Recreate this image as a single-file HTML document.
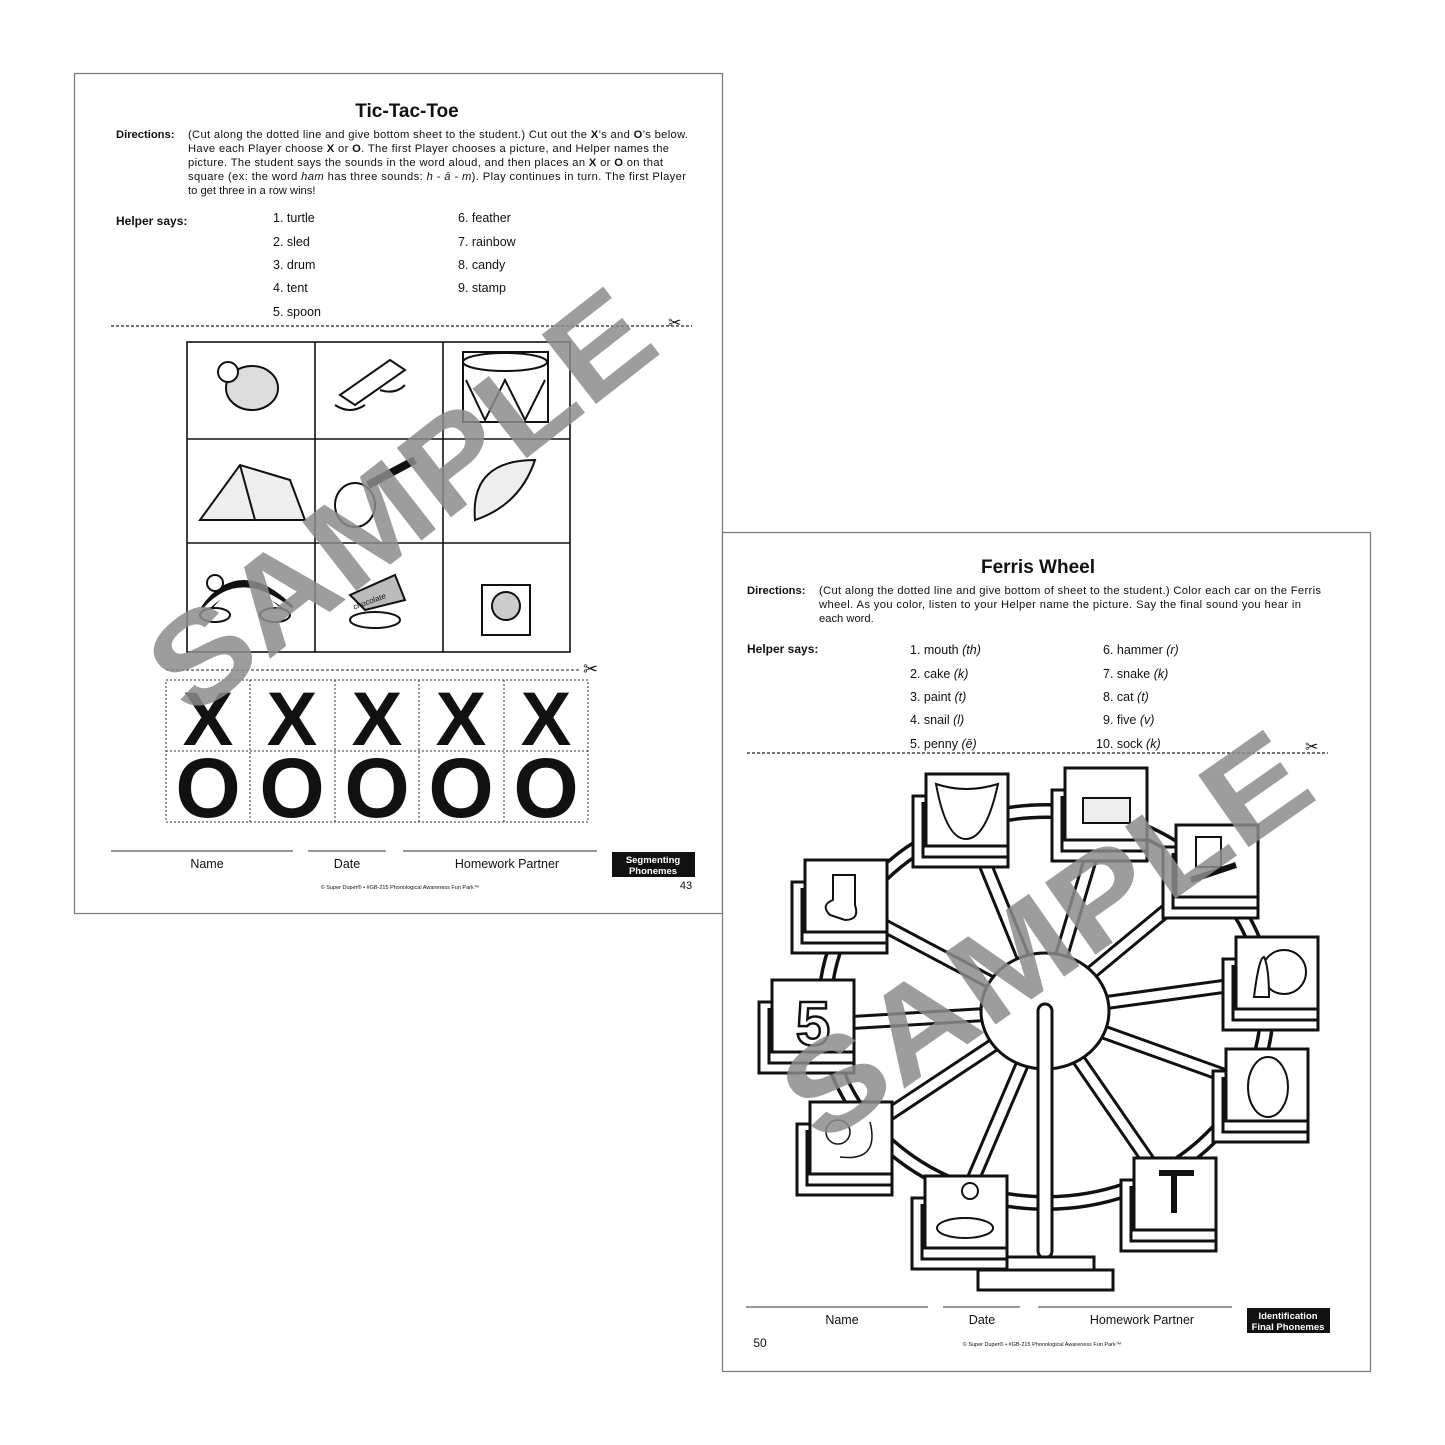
<!DOCTYPE html>
<html><head><meta charset="utf-8"><style>
html,body{margin:0;padding:0;background:#fff}
svg{display:block}
text{font-family:"Liberation Sans",sans-serif;fill:#111}
.b{font-weight:bold}
</style></head><body>
<svg width="1445" height="1445" viewBox="0 0 1445 1445" xmlns="http://www.w3.org/2000/svg">
<defs>
<g id="seat"><path d="M-13 22 H82 V93 H-13 Z" fill="#fff"/><path d="M-3 28 V83 H82" fill="none"/><rect x="0" y="0" width="82" height="72" fill="#fff"/></g>
</defs>
<rect width="1445" height="1445" fill="#fff"/>
<!-- PAGE 1 -->
<rect x="74.5" y="73.5" width="648" height="840" fill="#fff" stroke="#777" stroke-width="1.2"/>
<text x="407" y="117" font-size="19" class="b" text-anchor="middle">Tic-Tac-Toe</text>
<g font-size="11.2">
<text x="116" y="138" class="b">Directions:</text>
<text x="188" y="138" textLength="500" lengthAdjust="spacing">(Cut along the dotted line and give bottom sheet to the student.)  Cut out the <tspan class="b">X</tspan>’s and <tspan class="b">O</tspan>’s below.</text>
<text x="188" y="152" textLength="481" lengthAdjust="spacing">Have each Player choose <tspan class="b">X</tspan> or <tspan class="b">O</tspan>.  The first Player chooses a picture, and Helper names the</text>
<text x="188" y="166" textLength="475" lengthAdjust="spacing">picture.  The student says the sounds in the word aloud, and then places an <tspan class="b">X</tspan> or <tspan class="b">O</tspan> on that</text>
<text x="188" y="180" textLength="498" lengthAdjust="spacing">square (ex: the word <tspan font-style="italic">ham</tspan> has three sounds: <tspan font-style="italic">h - ā - m</tspan>).  Play continues in turn.  The first Player</text>
<text x="188" y="194">to get three in a row wins!</text>
<text x="116" y="225" class="b" font-size="12">Helper says:</text>
</g>
<g font-size="12.5">
<text x="273" y="222">1. turtle</text><text x="273" y="246">2. sled</text><text x="273" y="269">3. drum</text><text x="273" y="292">4. tent</text><text x="273" y="316">5. spoon</text>
<text x="458" y="222">6. feather</text><text x="458" y="246">7. rainbow</text><text x="458" y="269">8. candy</text><text x="458" y="292">9. stamp</text>
</g>
<line x1="111" y1="326" x2="692" y2="326" stroke="#222" stroke-width="1.2" stroke-dasharray="3,2"/>
<text x="668" y="328" font-size="16">✂</text>
<g stroke="#111" stroke-width="1.6" fill="none">
<rect x="187" y="342" width="383" height="310"/>
<line x1="315" y1="342" x2="315" y2="652"/><line x1="443" y1="342" x2="443" y2="652"/>
<line x1="187" y1="439" x2="570" y2="439"/><line x1="187" y1="543" x2="570" y2="543"/>
</g>
<g stroke="#111" stroke-width="2" fill="#fff">
<ellipse cx="252" cy="388" rx="26" ry="22" fill="#ddd"/><circle cx="228" cy="372" r="10"/>
<path d="M340 395 L390 360 L405 370 L355 405 Z"/><path d="M335 405 Q350 415 365 405 M380 390 Q395 395 405 385" fill="none"/>
<rect x="463" y="352" width="85" height="70"/><ellipse cx="505" cy="362" rx="42" ry="9"/><path d="M466 380 L485 420 L505 380 L525 420 L545 380" fill="none"/>
<path d="M200 520 L240 465 L290 480 L305 520 Z" fill="#eee"/><path d="M240 465 L255 520" fill="none"/>
<ellipse cx="355" cy="505" rx="20" ry="22"/><path d="M368 485 L415 460" stroke-width="8" fill="none"/>
<path d="M475 520 Q470 460 535 460 Q520 505 475 520 Z" fill="#eee"/>
<path d="M205 610 Q240 560 290 610" fill="none" stroke-width="10"/><path d="M205 610 Q240 570 290 610" fill="none" stroke="#fff" stroke-width="5"/>
<ellipse cx="215" cy="615" rx="15" ry="7"/><ellipse cx="275" cy="615" rx="15" ry="7"/><circle cx="215" cy="583" r="8"/>
<path d="M350 595 L395 575 L405 600 L365 610 Z" fill="#bbb"/><ellipse cx="375" cy="620" rx="25" ry="8"/>
<rect x="482" y="585" width="48" height="50"/><circle cx="506" cy="606" r="14" fill="#ccc"/>
</g>
<text x="352" y="603" font-size="8" transform="rotate(-20 372 600)">chocolate</text>
<line x1="166" y1="670" x2="580" y2="670" stroke="#222" stroke-width="1" stroke-dasharray="3,2"/>
<text x="583" y="675" font-size="18">✂</text>
<g stroke="#333" stroke-width="1" fill="none" stroke-dasharray="2,2">
<rect x="166" y="680" width="422" height="142"/>
<line x1="166" y1="751" x2="588" y2="751"/>
<line x1="250" y1="680" x2="250" y2="822"/><line x1="335" y1="680" x2="335" y2="822"/><line x1="419" y1="680" x2="419" y2="822"/><line x1="504" y1="680" x2="504" y2="822"/>
</g>
<g font-size="76" class="b" text-anchor="middle">
<text x="208" y="745">X</text><text x="292" y="745">X</text><text x="377" y="745">X</text><text x="461" y="745">X</text><text x="546" y="745">X</text>
</g>
<g font-size="84" text-anchor="middle" class="b">
<text x="208" y="817">O</text><text x="292" y="817">O</text><text x="377" y="817">O</text><text x="461" y="817">O</text><text x="546" y="817">O</text>
</g>
<g stroke="#333" stroke-width="1"><line x1="111" y1="851" x2="293" y2="851"/><line x1="308" y1="851" x2="386" y2="851"/><line x1="403" y1="851" x2="597" y2="851"/></g>
<g font-size="12.5" text-anchor="middle"><text x="207" y="868">Name</text><text x="347" y="868">Date</text><text x="507" y="868">Homework Partner</text></g>
<rect x="612" y="852" width="83" height="25" fill="#111"/>
<text x="653" y="863" font-size="9.5" class="b" style="fill:#fff" text-anchor="middle">Segmenting</text>
<text x="653" y="874" font-size="9.5" class="b" style="fill:#fff" text-anchor="middle">Phonemes</text>
<text x="686" y="889" font-size="11" text-anchor="middle">43</text>
<text x="400" y="889" font-size="5.5" text-anchor="middle">© Super Duper® • #GB-215 Phonological Awareness Fun Park™</text>
<text x="400" y="545" font-size="128" class="b" style="fill:#8c8c8c" fill-opacity="0.85" text-anchor="middle" textLength="600" lengthAdjust="spacingAndGlyphs" transform="rotate(-38 400 500)">SAMPLE</text>

<!-- PAGE 2 -->
<rect x="722.5" y="532.5" width="648" height="839" fill="#fff" stroke="#777" stroke-width="1.2"/>
<text x="1038" y="573" font-size="19" class="b" text-anchor="middle">Ferris Wheel</text>
<g font-size="11.2">
<text x="747" y="594" class="b">Directions:</text>
<text x="819" y="594" textLength="502" lengthAdjust="spacing">(Cut along the dotted line and give bottom of sheet to the student.)  Color each car on the Ferris</text>
<text x="819" y="608" textLength="482" lengthAdjust="spacing">wheel.  As you color, listen to your Helper name the picture.  Say the final sound you hear in</text>
<text x="819" y="622">each word.</text>
<text x="747" y="653" class="b" font-size="12">Helper says:</text>
</g>
<g font-size="12.5">
<text x="910" y="654">1. mouth <tspan font-style="italic">(th)</tspan></text><text x="910" y="678">2. cake <tspan font-style="italic">(k)</tspan></text><text x="910" y="701">3. paint <tspan font-style="italic">(t)</tspan></text><text x="910" y="724">4. snail <tspan font-style="italic">(l)</tspan></text><text x="910" y="748">5. penny <tspan font-style="italic">(ē)</tspan></text>
<text x="1103" y="654">6. hammer <tspan font-style="italic">(r)</tspan></text><text x="1103" y="678">7. snake <tspan font-style="italic">(k)</tspan></text><text x="1103" y="701">8. cat <tspan font-style="italic">(t)</tspan></text><text x="1103" y="724">9. five <tspan font-style="italic">(v)</tspan></text><text x="1096" y="748">10. sock <tspan font-style="italic">(k)</tspan></text>
</g>
<line x1="747" y1="753" x2="1328" y2="753" stroke="#222" stroke-width="1.2" stroke-dasharray="3,2"/>
<text x="1305" y="752" font-size="16">✂</text>
<g>
<g stroke="#111" stroke-width="15">
<line x1="1045" y1="1011" x2="965" y2="815"/><line x1="1045" y1="1011" x2="1105" y2="810"/><line x1="1045" y1="1011" x2="1215" y2="870"/>
<line x1="1045" y1="1011" x2="1270" y2="980"/><line x1="1045" y1="1011" x2="1265" y2="1090"/><line x1="1045" y1="1011" x2="1172" y2="1195"/>
<line x1="1045" y1="1011" x2="960" y2="1210"/><line x1="1045" y1="1011" x2="850" y2="1140"/><line x1="1045" y1="1011" x2="810" y2="1025"/><line x1="1045" y1="1011" x2="845" y2="905"/>
</g>
<g stroke="#fff" stroke-width="9">
<line x1="1045" y1="1011" x2="965" y2="815"/><line x1="1045" y1="1011" x2="1105" y2="810"/><line x1="1045" y1="1011" x2="1215" y2="870"/>
<line x1="1045" y1="1011" x2="1270" y2="980"/><line x1="1045" y1="1011" x2="1265" y2="1090"/><line x1="1045" y1="1011" x2="1172" y2="1195"/>
<line x1="1045" y1="1011" x2="960" y2="1210"/><line x1="1045" y1="1011" x2="850" y2="1140"/><line x1="1045" y1="1011" x2="810" y2="1025"/><line x1="1045" y1="1011" x2="845" y2="905"/>
</g>
<ellipse cx="1046" cy="1007" rx="221" ry="196" fill="none" stroke="#111" stroke-width="16"/>
<ellipse cx="1046" cy="1007" rx="221" ry="196" fill="none" stroke="#fff" stroke-width="9"/>
<ellipse cx="1045" cy="1011" rx="64" ry="58" fill="#fff" stroke="#111" stroke-width="3"/>
<rect x="1038" y="1004" width="14" height="254" rx="7" fill="#fff" stroke="#111" stroke-width="3"/>
<rect x="1002" y="1257" width="92" height="13" fill="#fff" stroke="#111" stroke-width="3"/>
<rect x="978" y="1270" width="135" height="20" fill="#fff" stroke="#111" stroke-width="3"/>
</g>
<g stroke="#111" stroke-width="3" fill="#fff">
<g transform="translate(926,774)"><use href="#seat"/><path d="M10 10 Q40 20 72 10 Q60 65 40 65 Q20 65 10 10Z" stroke-width="2"/></g>
<g transform="translate(1065,768)"><use href="#seat"/><path d="M18 30 H65 V55 H18Z" fill="#eee" stroke-width="2"/></g>
<g transform="translate(1176,825)"><use href="#seat"/><rect x="20" y="12" width="25" height="30" stroke-width="2"/><path d="M15 55 L60 40" stroke-width="6"/></g>
<g transform="translate(1236,937)"><use href="#seat"/><circle cx="48" cy="35" r="22" stroke-width="2"/><path d="M18 60 Q23 20 28 20 Q33 30 33 60Z" stroke-width="2"/></g>
<g transform="translate(1226,1049)"><use href="#seat"/><ellipse cx="42" cy="38" rx="20" ry="30" stroke-width="2"/></g>
<g transform="translate(1134,1158)"><use href="#seat"/><path d="M25 15 L60 15 M40 15 L40 55" stroke-width="6"/></g>
<g transform="translate(925,1176)"><use href="#seat"/><ellipse cx="40" cy="52" rx="28" ry="10" stroke-width="2"/><circle cx="45" cy="15" r="8" stroke-width="2"/></g>
<g transform="translate(810,1102)"><use href="#seat"/><circle cx="28" cy="30" r="12" stroke-width="1.5"/><path d="M30 55 Q70 60 60 20" fill="none" stroke-width="1.5"/></g>
<g transform="translate(772,980)"><use href="#seat"/></g>
<g transform="translate(805,860)"><use href="#seat"/><path d="M28 15 H50 V45 Q55 60 40 60 L25 55 Q15 45 28 40Z" stroke-width="2"/></g>
</g>
<text x="813" y="1045" font-size="62" class="b" text-anchor="middle" style="fill:#fff" stroke="#111" stroke-width="2.5">5</text>
<g stroke="#333" stroke-width="1"><line x1="746" y1="1307" x2="928" y2="1307"/><line x1="943" y1="1307" x2="1020" y2="1307"/><line x1="1038" y1="1307" x2="1232" y2="1307"/></g>
<g font-size="12.5" text-anchor="middle"><text x="842" y="1324">Name</text><text x="982" y="1324">Date</text><text x="1142" y="1324">Homework Partner</text></g>
<rect x="1247" y="1308" width="83" height="25" fill="#111"/>
<text x="1288" y="1319" font-size="9.5" class="b" style="fill:#fff" text-anchor="middle">Identification</text>
<text x="1288" y="1330" font-size="9.5" class="b" style="fill:#fff" text-anchor="middle">Final Phonemes</text>
<text x="760" y="1347" font-size="12" text-anchor="middle">50</text>
<text x="1042" y="1346" font-size="5.5" text-anchor="middle">© Super Duper® • #GB-215 Phonological Awareness Fun Park™</text>
<text x="1045" y="980" font-size="128" class="b" style="fill:#8c8c8c" fill-opacity="0.85" text-anchor="middle" textLength="610" lengthAdjust="spacingAndGlyphs" transform="rotate(-35 1045 935)">SAMPLE</text>
</svg>
</body></html>
